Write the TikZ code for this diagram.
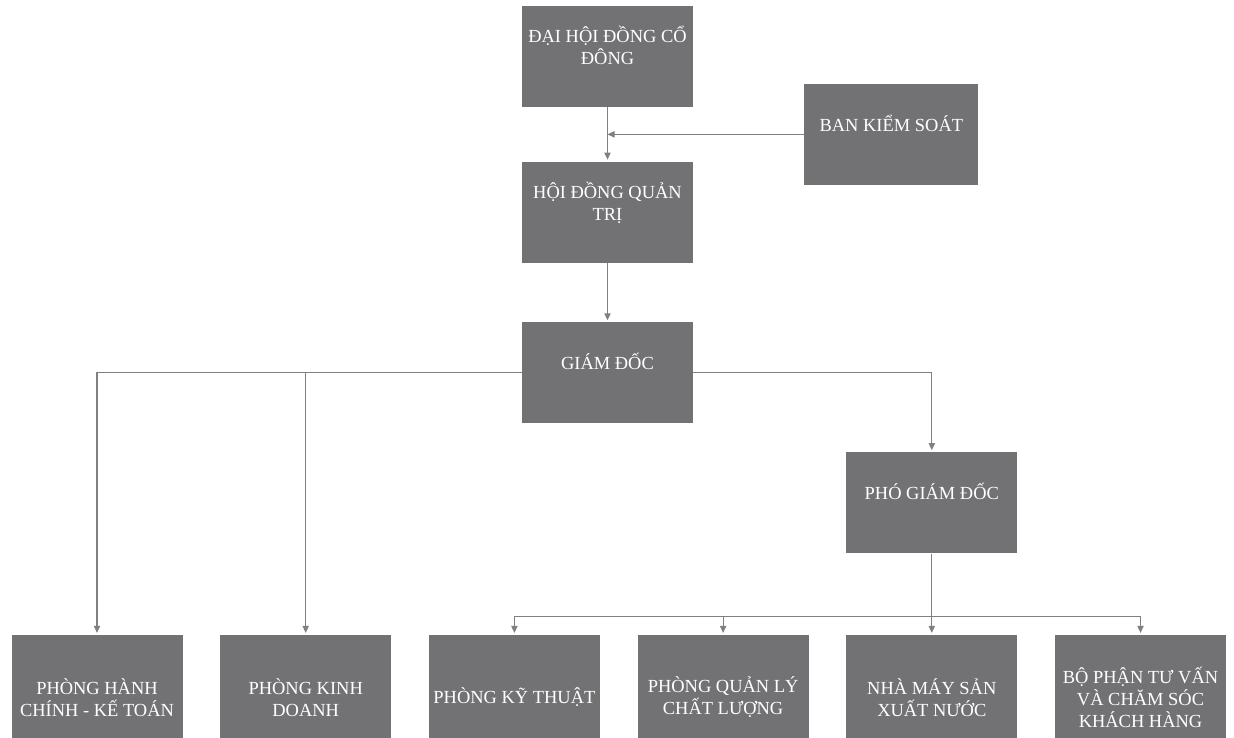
\documentclass[tikz,border=0pt]{standalone}
\usepackage{fontspec}
\setmainfont{Liberation Serif}
\usepackage{xcolor}
\usetikzlibrary{positioning,arrows.meta,chains,calc}

\definecolor{hopxam}{RGB}{114,114,116}
\definecolor{duongke}{RGB}{128,128,128}

\begin{document}
\begin{tikzpicture}[
  node distance=0.74cm,
  every node/.append style={
    fill=hopxam,
    text=white,
    align=center,
    inner sep=1pt,
    font=\fontsize{10.5}{12.5}\selectfont
  },
  top box/.style={minimum width=3.42cm, minimum height=2.02cm, text depth=0.45cm},
  dept box/.style={minimum width=3.42cm, minimum height=2.5cm},
  arrow/.style={draw=duongke, line width=0.6pt, -{Triangle[length=4pt,width=3.6pt]}, shorten >=1pt},
  start chain=phong going right
]
\useasboundingbox (0,0) rectangle (24.68,-14.74);

\node[top box] (daihoi) at (12.15,-1.13) {ĐẠI HỘI ĐỒNG CỔ\\ĐÔNG};
\node[top box, below=1.08cm of daihoi] (hoidong) {HỘI ĐỒNG QUẢN\\TRỊ};
\coordinate (mid) at ($(daihoi.south)!0.5!(hoidong.north)$);
\node[top box, minimum width=3.48cm, right=3.93cm of mid] (bankiemsoat) {BAN KIỂM SOÁT};
\node[top box, below=1.18cm of hoidong] (giamdoc) {GIÁM ĐỐC};

% cac phong ban
\begin{scope}[every node/.append style={dept box, on chain}]
  \node at (1.94,-13.95) {PHÒNG HÀNH\\CHÍNH - KẾ TOÁN};
  \node {PHÒNG KINH\\DOANH};
  \node {PHÒNG KỸ THUẬT};
  \node {PHÒNG QUẢN LÝ\\CHẤT LƯỢNG};
  \node {NHÀ MÁY SẢN\\XUẤT NƯỚC};
  \node {BỘ PHẬN TƯ VẤN\\VÀ CHĂM SÓC\\KHÁCH HÀNG};
\end{scope}

\node[top box, above=1.62cm of phong-5] (phogiamdoc) {PHÓ GIÁM ĐỐC};
\coordinate[below=1.26cm of phogiamdoc] (bus);

\draw[arrow] (daihoi) -- (hoidong);
\draw[arrow, shorten >=0pt] (bankiemsoat) -- (mid);
\draw[arrow] (hoidong) -- (giamdoc);
\draw[arrow] (giamdoc) -| (phogiamdoc);
\draw[arrow] (giamdoc) -| (phong-1);
\draw[arrow] (giamdoc) -| (phong-2);
\draw[draw=duongke, line width=0.6pt] (phogiamdoc) -- (bus);
\foreach \i in {3,...,6}
  \draw[arrow] (bus) -| (phong-\i);
\end{tikzpicture}
\end{document}
